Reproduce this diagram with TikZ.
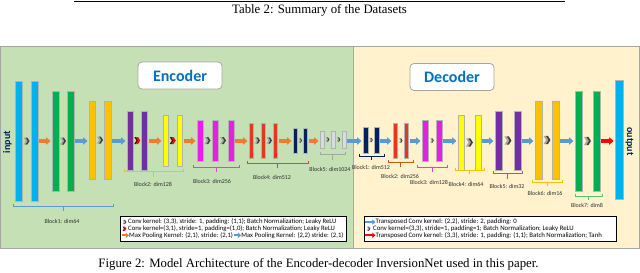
\documentclass[tikz,border=0pt]{standalone}
\usepackage{fontspec}
\setmainfont{Liberation Serif}
\newfontfamily\carl{Carlito}
\usetikzlibrary{arrows.meta,calc}
\definecolor{encbg}{HTML}{C5E0B4}
\definecolor{decbg}{HTML}{FFF2CC}
\definecolor{framec}{HTML}{A6A6A6}
\definecolor{ccyan}{HTML}{00B0F0}
\definecolor{cgreen}{HTML}{00B050}
\definecolor{corange}{HTML}{FFC000}
\definecolor{cpurple}{HTML}{7030A0}
\definecolor{cyellow}{HTML}{FFFF00}
\definecolor{cmag}{HTML}{E61EE6}
\definecolor{cred}{HTML}{E5361F}
\definecolor{cnavy}{HTML}{002060}
\definecolor{cgray}{HTML}{D6DCE4}
\definecolor{aorange}{HTML}{ED7D31}
\definecolor{ablue}{HTML}{5B9BD5}
\definecolor{ared}{HTML}{FF0000}
\definecolor{titleblue}{HTML}{0070C0}
\definecolor{brorange}{HTML}{C55A11}
\definecolor{brmag}{HTML}{E040E0}
\definecolor{brgreen}{HTML}{5CC070}
\definecolor{brpurple}{HTML}{8E5DB8}
\definecolor{labelc}{HTML}{303030}
\definecolor{chevdark}{HTML}{404040}
\definecolor{chevlight}{HTML}{A6A6A6}
\definecolor{chevrdark}{HTML}{5A0000}

\newcommand\mkbar[6]{%
  \pgfmathsetmacro\mybw{#3-#2}\pgfmathsetmacro\mybh{#5-#4}%
  \pgfmathsetmacro\mybx{(#2+#3)/2}\pgfmathsetmacro\myby{(#4+#5)/2}%
  \node[barst,fill=#6,minimum width=\mybw pt,minimum height=\mybh pt] (#1) at (\mybx,\myby) {};}
% name, x1, x2, y, tick end, colour, label, label x, label y
\newcommand\blk[9]{%
  \draw[brk,#6] (#2,{#4-2.5}) -- (#2,#4) -- (#3,#4) -- (#3,{#4-2.5})
     ({(#2+#3)/2},#4) -- ({(#2+#3)/2},#5);
  \node[blabel] (#1) at (#8,#9) {#7};}

\begin{document}
\begin{tikzpicture}[x=1pt,y=-1pt,
  barst/.style={draw=black!30,line width=0.4pt,inner sep=0pt,outer sep=0pt},
  blockarrow/.style={draw=#1,line width=3.4pt,-{Triangle[length=4.5pt,width=7.5pt]},shorten <=1pt,shorten >=1.5pt},
  legarrow/.style={draw=#1,line width=2pt,-{Triangle[length=3.2pt,width=5.2pt]}},
  brk/.style={line width=0.8pt},
  blabel/.style={font=\carl\fontsize{6}{7}\selectfont,text=labelc,inner sep=0pt},
  legtext/.style={font=\carl\fontsize{6.7}{7}\selectfont,text=black,inner sep=0pt,anchor=west},
  legtextd/.style={legtext,font=\carl\fontsize{6.8}{7}\selectfont},
  titlebox/.style={draw=framec,fill=white,rounded corners=4pt,line width=0.8pt,minimum width=84pt,minimum height=27pt,
     font=\carl\bfseries\fontsize{16}{18}\selectfont,text=titleblue,inner sep=0pt},
  io/.style={font=\carl\bfseries\fontsize{10}{12}\selectfont,text=cnavy,inner sep=0pt},
  pics/chevg/.style={code={
    \fill[chevlight] (-3,-3.5) -- (-1.2,-3.5) -- (1,0) -- (-1.2,3.5) -- (-3,3.5) -- (-0.8,0) -- cycle;
    \fill[chevdark] (-1,-3.5) -- (0.8,-3.5) -- (3,0) -- (0.8,3.5) -- (-1,3.5) -- (1.2,0) -- cycle;}},
  pics/chevr/.style={code={
    \fill[chevrdark] (-3,-3.5) -- (-1.2,-3.5) -- (1,0) -- (-1.2,3.5) -- (-3,3.5) -- (-0.8,0) -- cycle;
    \fill[ared] (-1,-3.5) -- (0.8,-3.5) -- (3,0) -- (0.8,3.5) -- (-1,3.5) -- (1.2,0) -- cycle;}}
]
\useasboundingbox (0,0) rectangle (640,273);
\fill[white] (0,0) rectangle (640,273);

% top rule and table caption
\coordinate (ruleL) at (74,1.3);
\coordinate (ruleR) at (565,1.3);
\draw[line width=1.3pt] (ruleL) -- (ruleR);
\node[font=\fontsize{12.8}{14}\selectfont,inner sep=0pt] (tabcap) at (319.5,10.5) {Table 2: Summary of the Datasets};

% panels
\fill[encbg] (0.5,46.5) rectangle (353,248.3);
\fill[decbg] (353,46.5) rectangle (639.3,248.3);
\draw[framec,line width=0.8pt] (0.5,46.5) rectangle (639.3,248.3);
\draw[framec,line width=0.8pt] (353,46.5) -- (353,248.3);

% titles
\node[titlebox] (enc) at (180,75.5) {Encoder};
\node[titlebox] (dec) at (452,77) {Decoder};

% input / output labels
\node[io,rotate=90] (inp) at (7.5,142) {input};
\node[io,rotate=-90] (outp) at (629.5,141.5) {output};

% encoder bars
\mkbar{c1}{15}{22}{81}{201}{ccyan}
\mkbar{c2}{31}{38}{81}{201}{ccyan}
\mkbar{g1}{52}{59}{91}{191}{cgreen}
\mkbar{g2}{67}{74}{91}{191}{cgreen}
\mkbar{o1}{89}{95.5}{101}{179}{corange}
\mkbar{o2}{104.5}{111}{101}{179}{corange}
\mkbar{p1}{127}{133.5}{111}{170}{cpurple}
\mkbar{p2}{141}{147.5}{111}{170}{cpurple}
\mkbar{y1}{163}{168.5}{115}{166}{cyellow}
\mkbar{y2}{177}{182.5}{115}{166}{cyellow}
\mkbar{m1}{197}{203}{120}{161}{cmag}
\mkbar{m2}{212}{218}{120}{161}{cmag}
\mkbar{m3}{228}{234}{120}{161}{cmag}
\mkbar{r1}{249}{253.5}{123}{158}{cred}
\mkbar{r2}{261}{265.5}{123}{158}{cred}
\mkbar{r3}{273}{277.5}{123}{158}{cred}
\mkbar{n1}{293}{297.5}{128}{153}{cnavy}
\mkbar{n2}{303}{307.5}{128}{153}{cnavy}
\mkbar{s1}{320}{324}{131}{148}{cgray}
\mkbar{s2}{331}{335}{131}{148}{cgray}
\mkbar{s3}{342}{346}{131}{148}{cgray}
% decoder bars
\mkbar{dn1}{363}{368}{127}{153}{cnavy}
\mkbar{dn2}{374}{379}{127}{153}{cnavy}
\mkbar{dr1}{393}{397.5}{123}{158}{cred}
\mkbar{dr2}{404}{408.5}{123}{158}{cred}
\mkbar{dm1}{422}{428}{120}{161}{cmag}
\mkbar{dm2}{436}{442}{120}{161}{cmag}
\mkbar{dy1}{458}{464}{115}{170}{cyellow}
\mkbar{dy2}{475}{481}{115}{170}{cyellow}
\mkbar{dp1}{495}{502}{111}{170}{cpurple}
\mkbar{dp2}{514}{521}{111}{170}{cpurple}
\mkbar{do1}{535}{542}{101}{179}{corange}
\mkbar{do2}{552}{559}{101}{179}{corange}
\mkbar{dg1}{575}{582}{91}{191}{cgreen}
\mkbar{dg2}{593}{600}{91}{191}{cgreen}
\mkbar{out}{615}{623}{80}{199}{ccyan}

% chevrons
\coordinate (ay) at (0,141);
\pic at ($(c1.east)!.5!(c2.west)$ |- ay) {chevg};
\pic at ($(g1.east)!.5!(g2.west)$ |- ay) {chevg};
\pic at ($(o1.east)!.5!(o2.west)$ |- ay) {chevg};
\pic at ($(p1.east)!.5!(p2.west)$ |- ay) {chevr};
\pic at ($(y1.east)!.5!(y2.west)$ |- ay) {chevr};
\pic at ($(m1.east)!.5!(m2.west)$ |- ay) {chevg};
\pic at ($(m2.east)!.5!(m3.west)$ |- ay) {chevg};
\pic[scale=0.9] at ($(r1.east)!.5!(r2.west)$ |- ay) {chevg};
\pic[scale=0.9] at ($(r2.east)!.5!(r3.west)$ |- ay) {chevg};
\pic[scale=0.6] at ($(n1.east)!.5!(n2.west)$ |- ay) {chevg};
\pic[scale=0.6] at ($(s1.east)!.5!(s2.west)$ |- ay) {chevg};
\pic[scale=0.6] at ($(s2.east)!.5!(s3.west)$ |- ay) {chevg};
\pic[scale=0.6] at ($(dn1.east)!.5!(dn2.west)$ |- ay) {chevg};
\pic[scale=0.6] at ($(dr1.east)!.5!(dr2.west)$ |- ay) {chevg};
\pic[scale=0.6] at ($(dm1.east)!.5!(dm2.west)$ |- ay) {chevg};
\pic[scale=1.15] at ($(dy1.east)!.5!(dy2.west)$ |- ay) {chevg};
\pic[scale=1.15] at ($(dp1.east)!.5!(dp2.west)$ |- ay) {chevg};
\pic[scale=1.15] at ($(do1.east)!.5!(do2.west)$ |- ay) {chevg};
\pic[scale=1.15] at ($(dg1.east)!.5!(dg2.west)$ |- ay) {chevg};

% block arrows
\draw[blockarrow=aorange] (c2.east |- ay) -- (g1.west |- ay);
\draw[blockarrow=ablue] (g2.east |- ay) -- (o1.west |- ay);
\draw[blockarrow=ablue] (o2.east |- ay) -- (p1.west |- ay);
\draw[blockarrow=aorange] (p2.east |- ay) -- (y1.west |- ay);
\draw[blockarrow=aorange] (y2.east |- ay) -- (m1.west |- ay);
\draw[blockarrow=aorange] (m3.east |- ay) -- (r1.west |- ay);
\draw[blockarrow=aorange] (r3.east |- ay) -- (n1.west |- ay);
\draw[blockarrow=aorange] (n2.east |- ay) -- (s1.west |- ay);
\draw[blockarrow=ablue] (s3.east |- ay) -- (dn1.west |- ay);
\draw[blockarrow=ablue] (dn2.east |- ay) -- (dr1.west |- ay);
\draw[blockarrow=ablue] (dr2.east |- ay) -- (dm1.west |- ay);
\draw[blockarrow=ablue] (dm2.east |- ay) -- (dy1.west |- ay);
\draw[blockarrow=ablue] (dy2.east |- ay) -- (dp1.west |- ay);
\draw[blockarrow=ablue] (dp2.east |- ay) -- (do1.west |- ay);
\draw[blockarrow=ablue] (do2.east |- ay) -- (dg1.west |- ay);
\draw[blockarrow=ared] (dg2.east |- ay) -- (out.west |- ay);

% brackets and block labels
\blk{eb1}{13}{113}{206}{211}{ablue}{Block1: dim64}{62}{221}
\blk{eb2}{124}{183}{171.5}{177}{corange}{Block2: dim128}{153}{184.5}
\blk{eb3}{193}{239}{167}{172}{brmag}{Block3: dim256}{212}{181}
\blk{eb4}{247}{308}{163}{168}{brorange}{Block4: dim512}{272}{177}
\blk{eb5}{320}{345}{154}{160}{framec}{Block5: dim1024}{330}{169}
\blk{db1}{359}{384}{156}{160}{cnavy}{Block1: dim512}{371}{167}
\blk{db2}{388}{413}{162}{167}{brorange}{Block2: dim256}{400}{176}
\blk{db3}{417}{447}{167}{172}{brmag}{Block3: dim128}{429}{182}
\blk{db4}{455}{484}{170}{174}{corange}{Block4: dim64}{466}{184}
\blk{db5}{493}{522}{173}{179}{brpurple}{Block5: dim32}{507}{186}
\blk{db6}{532}{562}{182}{186}{corange}{Block6: dim16}{545}{193}
\blk{db7}{575}{602}{196}{200}{brgreen}{Block7: dim8}{587}{205}

% encoder legend
\node[draw=black,fill=white,line width=0.6pt,minimum width=226pt,minimum height=25pt,inner sep=0pt] (encleg) at (233,228.5) {};
\pic[scale=0.6] at (124.5,222) {chevg};
\node[legtext] (el1) at (128,222) {Conv kernel: (3,3), stride: 1, padding: (1,1); Batch Normalization; Leaky ReLU};
\pic[scale=0.6] at (124.5,228.7) {chevr};
\node[legtext] (el2) at (128,228.7) {Conv kernel=(3,1), stride=1, padding=(1,0); Batch Normalization; Leaky ReLU};
\coordinate (ela) at (121.5,235.3);
\node[legtext] (el3) at (129,235.3) {Max Pooling Kernel: (2,1), stride: (2,1)};
\draw[legarrow=aorange] (ela) -- (el3.west);
\coordinate (elb) at ([xshift=1pt]el3.east);
\node[legtext] (el4) at ([xshift=7pt]elb) {Max Pooling Kernel: (2,2) stride: (2,1)};
\draw[legarrow=ablue] (elb) -- (el4.west);

% decoder legend
\node[draw=black,fill=white,line width=0.6pt,minimum width=252pt,minimum height=25pt,inner sep=0pt] (decleg) at (490,228.5) {};
\coordinate (dla) at (365,222);
\node[legtextd] (dl1) at (375.5,222) {Transposed Conv kernel: (2,2), stride: 2, padding: 0};
\draw[legarrow=ablue] (dla) -- (dl1.west);
\pic[scale=0.6] at (368.5,228.7) {chevg};
\node[legtextd] (dl2) at (373,228.7) {Conv kernel=(3,3), stride=1, padding=1; Batch Normalization; Leaky ReLU};
\coordinate (dlc) at (365,235.3);
\node[legtextd] (dl3) at (375.5,235.3) {Transposed Conv kernel: (3,3), stride: 1, padding: (1,1); Batch Normalization; Tanh};
\draw[legarrow=ared] (dlc) -- (dl3.west);

% figure caption
\node[font=\fontsize{12.8}{14}\selectfont,inner sep=0pt] (figcap) at (318.5,264.5) {Figure 2: Model Architecture of the Encoder-decoder InversionNet used in this paper.};
\end{tikzpicture}
\end{document}
